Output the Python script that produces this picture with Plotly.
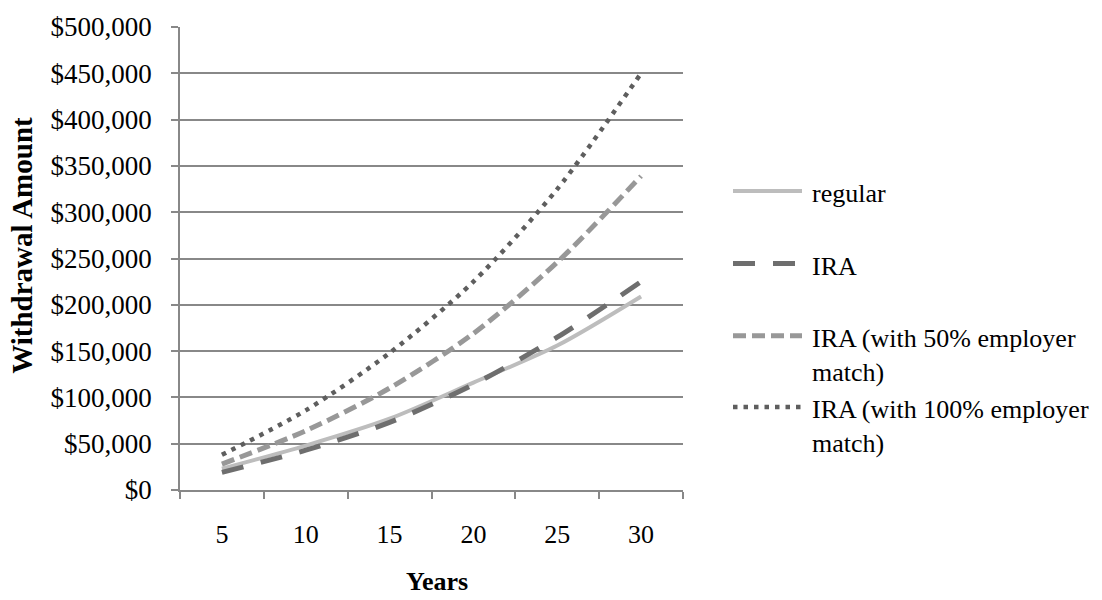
import plotly.graph_objects as go

# Withdrawal amounts by investment horizon
years = ["5", "10", "15", "20", "25", "30"]
regular = [23000, 48000, 77000, 116000, 156000, 209000]
ira = [19000, 43000, 73000, 114000, 165000, 225000]
ira_match50 = [28000, 64000, 110000, 169000, 246000, 339000]
ira_match100 = [38000, 86000, 148000, 225000, 325000, 450000]

series_names = ["regular", "IRA", "IRA (with 50% employer<br>match)", "IRA (with 100% employer<br>match)"]
series_values = [regular, ira, ira_match50, ira_match100]

FONT = "Liberation Serif, Times New Roman, serif"
styles = [
    dict(color="#BDBDBD", width=4, dash="solid"),
    dict(color="#6E6E6E", width=5, dash="22px,18px"),
    dict(color="#989898", width=5, dash="13px,6px"),
    dict(color="#5E5E5E", width=4.5, dash="4.5px,6px"),
]

fig = go.Figure()
for name, vals, st in zip(series_names, series_values, styles):
    fig.add_trace(go.Scatter(
        x=years, y=vals, mode="lines", name=name.replace("<br>", " "),
        line=dict(color=st["color"], width=st["width"], dash=st["dash"],
                  shape="spline", smoothing=0.8),
        showlegend=False,
    ))

# Legend drawn manually (long symbols, wrapped labels)
L, T, B = 180, 16, 490
plot_w, plot_h = 1102 - L - 419, B - T
legend_y = [184, 258, 332, 405]


def px_to_paper_x(px):
    return (px - L) / plot_w


def px_to_paper_y(py):
    return (B - py) / plot_h


for name, st, ly in zip(series_names, styles, legend_y):
    fig.add_shape(type="line", xref="paper", yref="paper",
                  x0=px_to_paper_x(733), x1=px_to_paper_x(802),
                  y0=px_to_paper_y(ly), y1=px_to_paper_y(ly),
                  line=dict(color=st["color"], width=st["width"], dash=st["dash"]))
    fig.add_annotation(xref="paper", yref="paper", x=px_to_paper_x(810),
                       y=px_to_paper_y(ly - 14), xanchor="left", yanchor="top",
                       text=name, showarrow=False, align="left",
                       font=dict(family=FONT, size=26, color="black"))

# Axis titles
fig.add_annotation(xref="paper", yref="paper", x=px_to_paper_x(437), y=px_to_paper_y(584),
                   text="<b>Years</b>", showarrow=False, xanchor="center", yanchor="middle",
                   font=dict(family=FONT, size=26, color="black"))
fig.add_annotation(xref="paper", yref="paper", x=px_to_paper_x(22), y=px_to_paper_y(240),
                   text="<b>Withdrawal Amount</b>", showarrow=False, textangle=-90,
                   xanchor="center", yanchor="middle",
                   font=dict(family=FONT, size=29, color="black"))

fig.update_layout(
    width=1102, height=600,
    margin=dict(l=L, r=419, t=T, b=600 - B),
    paper_bgcolor="white", plot_bgcolor="white",
    font=dict(family=FONT, size=26, color="black"),
)
fig.update_xaxes(
    type="category", range=[-0.5, 5.5], tickson="boundaries",
    ticks="outside", ticklen=7, tickcolor="#888888", tickwidth=1.5,
    showline=True, linecolor="#888888", linewidth=1.5,
    showgrid=False, ticklabelstandoff=20,
    tickfont=dict(family=FONT, size=26, color="black"),
)
fig.update_yaxes(
    range=[0, 500000], dtick=50000, tickprefix="$", tickformat=",d",
    ticks="outside", ticklen=7, tickcolor="#888888", tickwidth=1.5,
    showline=True, linecolor="#888888", linewidth=1.5,
    showgrid=True, gridcolor="#888888", gridwidth=1.5, zeroline=False,
    ticklabelstandoff=14,
    tickfont=dict(family=FONT, size=27, color="black"),
)

fig.write_html("out.html")
